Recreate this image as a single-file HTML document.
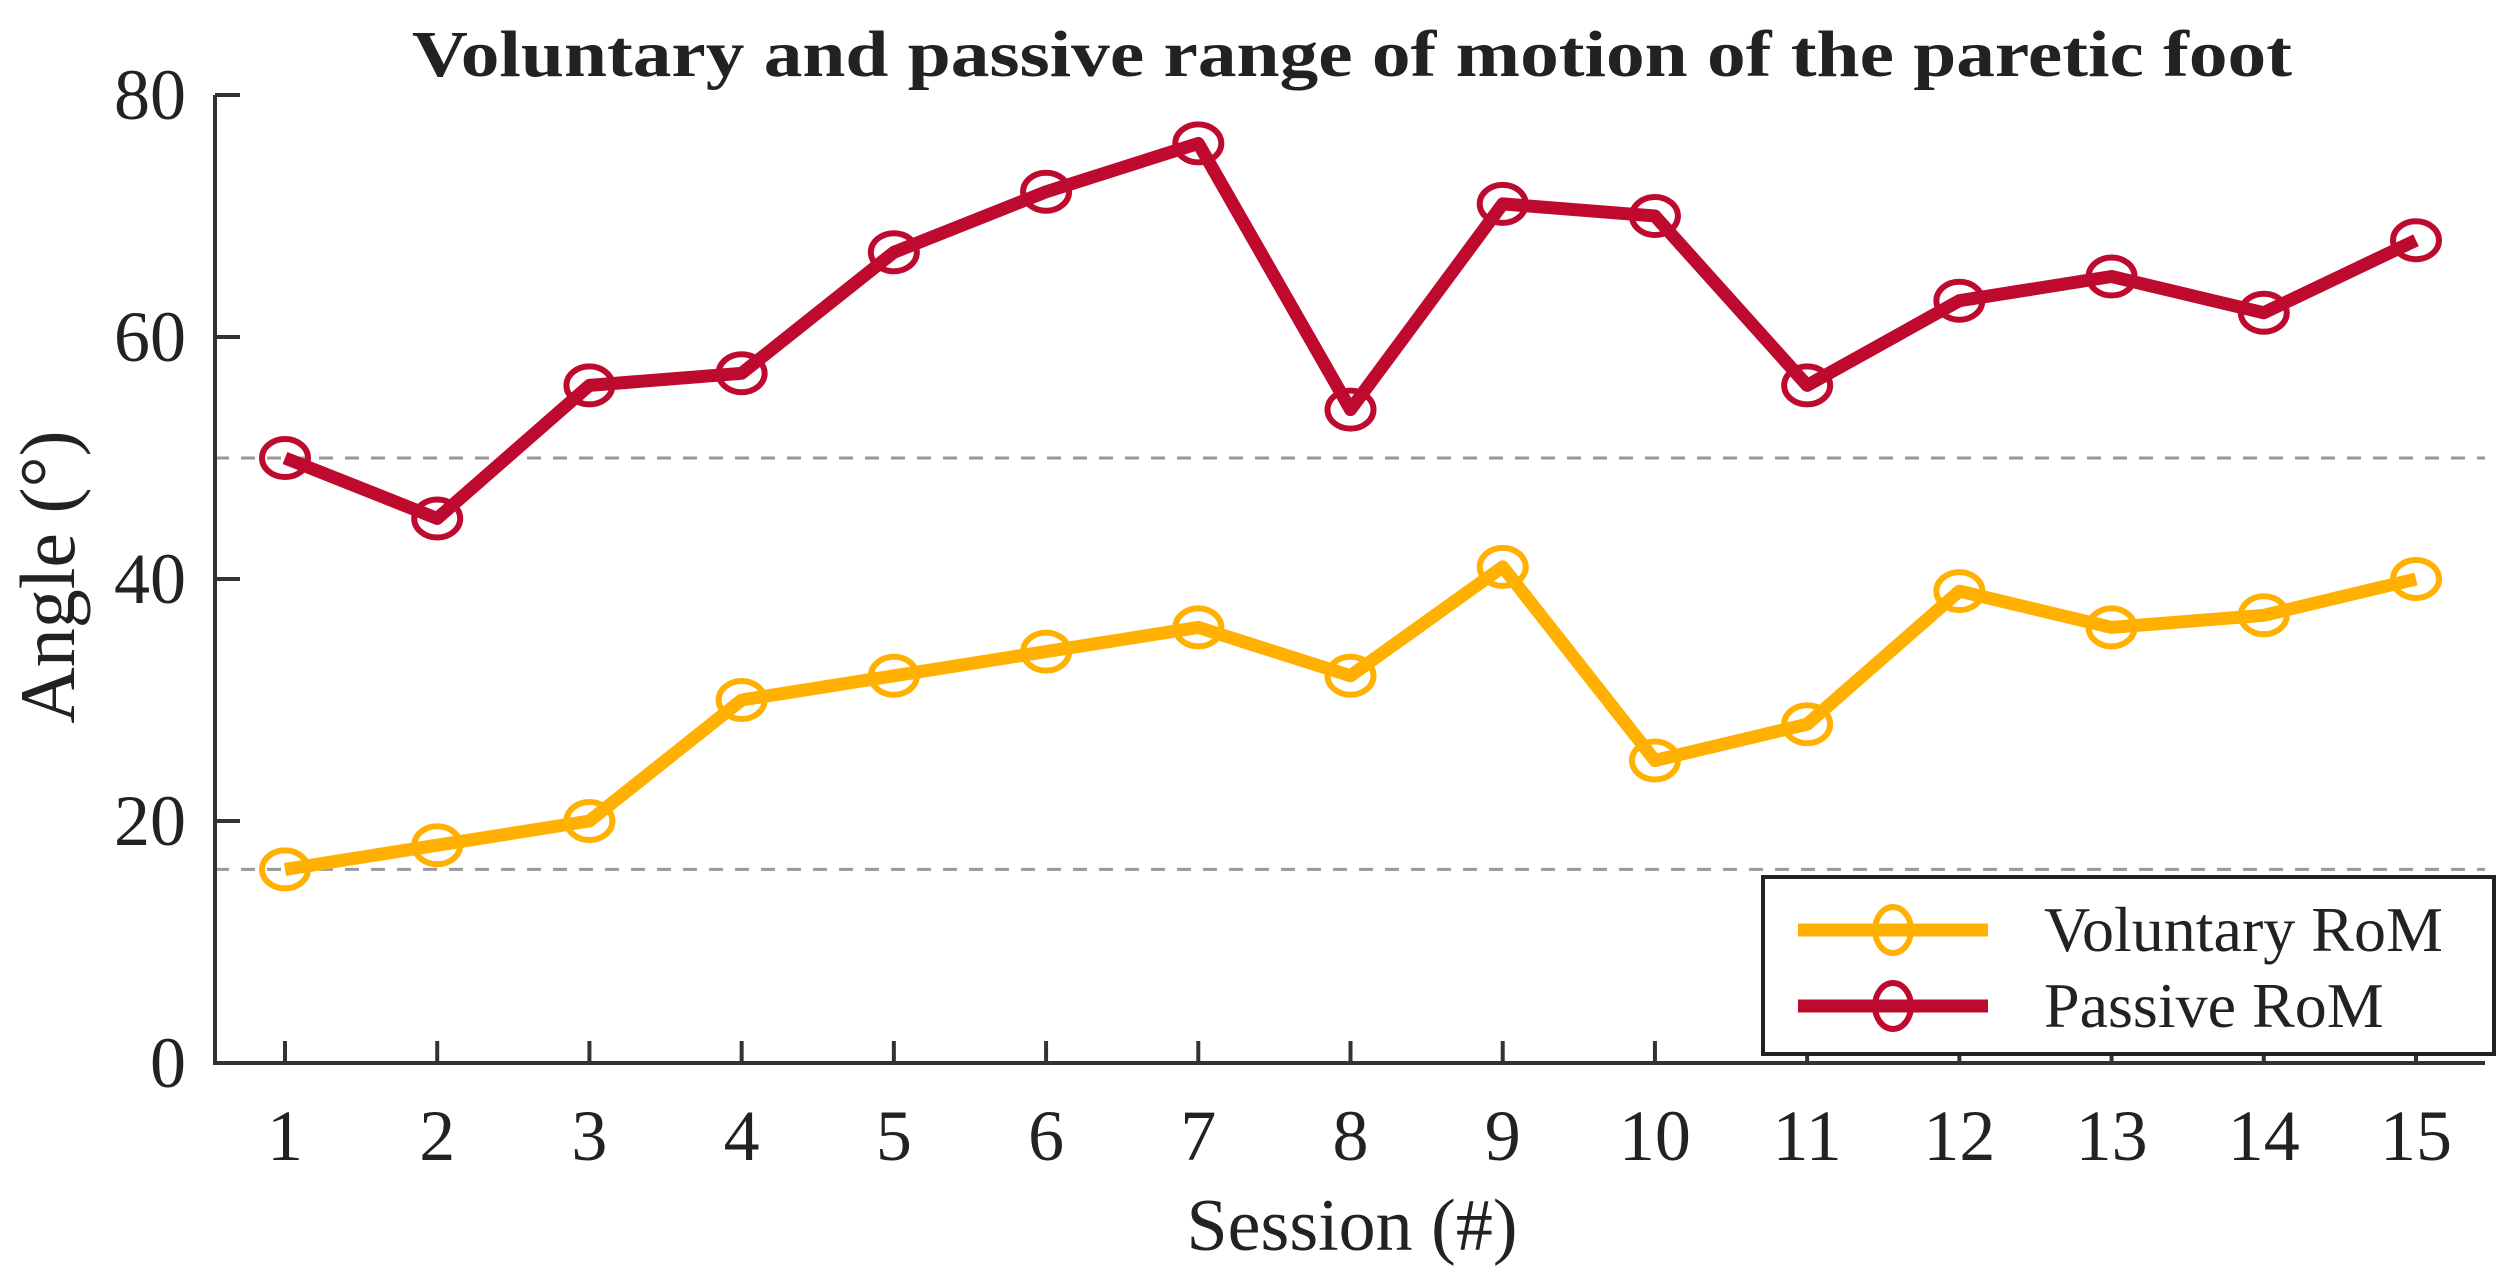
<!DOCTYPE html>
<html><head><meta charset="utf-8"><style>
html,body{margin:0;padding:0;background:#fff}
svg{display:block}
text{font-family:"Liberation Serif",serif;fill:#222}
</style></head><body>
<svg id="chart" width="2512" height="1286" viewBox="0 0 2512 1286">
<text x="1352" y="76" text-anchor="middle" font-size="66" font-weight="bold" fill="#000" textLength="1880" lengthAdjust="spacingAndGlyphs">Voluntary and passive range of motion of the paretic foot</text>
<g id="grid"></g>
<g id="axes"></g>
<g id="series"></g>
<text x="1352" y="1250" text-anchor="middle" font-size="74">Session (#)</text>
<text transform="translate(74,577) rotate(-90)" text-anchor="middle" font-size="78">Angle (°)</text>
<g>
<rect x="1763" y="877" width="731" height="177" fill="#fff" stroke="#222" stroke-width="4"/>
<g>
<line x1="1798" y1="930" x2="1988" y2="930" stroke="#FFB000" stroke-width="13"/>
<ellipse cx="1893" cy="930" rx="18" ry="23" fill="none" stroke="#FFB000" stroke-width="6"/>
<text x="2044" y="951" font-size="64">Voluntary RoM</text></g>
<g>
<line x1="1798" y1="1006" x2="1988" y2="1006" stroke="#BE0A2F" stroke-width="13"/>
<ellipse cx="1893" cy="1006" rx="18" ry="23" fill="none" stroke="#BE0A2F" stroke-width="6"/>
<text x="2044" y="1027" font-size="64">Passive RoM</text></g>
</g>
</svg>
<script>
const sessions=[1,2,3,4,5,6,7,8,9,10,11,12,13,14,15];
const voluntary=[16,18,20,30,32,34,36,32,41,25,28,39,36,37,40];
const passive=[50,45,56,57,67,72,76,54,71,70,56,63,65,62,68];
const yTicks=[0,20,40,60,80];
const refLines=[50,16];
const NS="http://www.w3.org/2000/svg";
const X0=215,X1=2485,Y0=1063,Y1=95;
function xs(s){return 285+(s-1)*(2416-285)/14;}
function ys(v){return Y0-(v/80)*(Y0-Y1);}
function mk(tag,attrs,parent){const e=document.createElementNS(NS,tag);for(const k in attrs)e.setAttribute(k,attrs[k]);parent.appendChild(e);return e;}
const grid=document.getElementById('grid'),axes=document.getElementById('axes'),ser=document.getElementById('series');
refLines.forEach(v=>{const l=mk('line',{x1:X0,x2:X1,y1:ys(v),y2:ys(v),stroke:'#999','stroke-width':3,'stroke-dasharray':'14 12'},grid);

});
const ax=mk('path',{d:`M${X0},${Y1}V${Y0}H${X1}`,fill:'none',stroke:'#333','stroke-width':4},axes);


yTicks.forEach(v=>{mk('line',{x1:X0,x2:X0+25,y1:ys(v),y2:ys(v),stroke:'#333','stroke-width':4},axes);
const t=mk('text',{x:186,y:ys(v)+24,'text-anchor':'end','font-size':72},axes);t.textContent=v;

});
sessions.forEach(s=>{mk('line',{x1:xs(s),x2:xs(s),y1:Y0,y2:Y0-22,stroke:'#333','stroke-width':4},axes);
const t=mk('text',{x:xs(s),y:1160,'text-anchor':'middle','font-size':72},axes);t.textContent=s;

});
function drawSeries(vals,color,name){
const g=mk('g',{},ser);


const pl=mk('polyline',{points:vals.map((v,i)=>xs(sessions[i])+','+ys(v)).join(' '),fill:'none',stroke:color,'stroke-width':13,'stroke-linejoin':'round'},g);


vals.forEach((v,i)=>{const c=mk('ellipse',{cx:xs(sessions[i]),cy:ys(v),rx:23,ry:19,fill:'none',stroke:color,'stroke-width':6},g);

});
}
drawSeries(voluntary,'#FFB000','voluntary');
drawSeries(passive,'#BE0A2F','passive');
</script>
</body></html>
